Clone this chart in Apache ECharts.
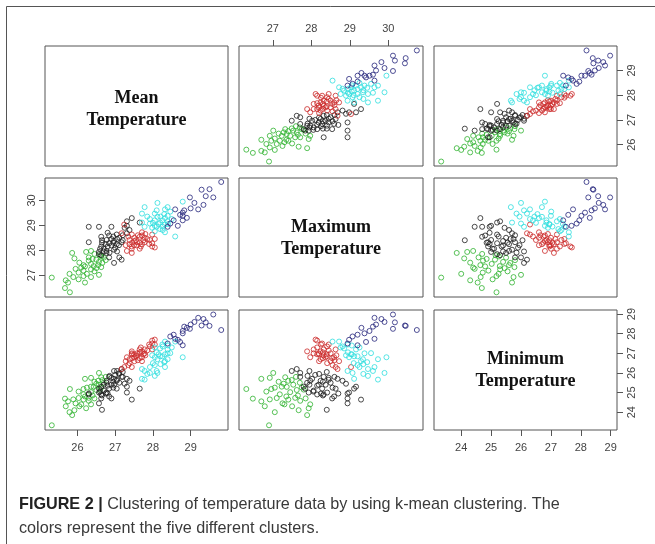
<!DOCTYPE html>
<html>
<head>
<meta charset="utf-8">
<script src="https://cdn.jsdelivr.net/npm/echarts@6/dist/echarts.min.js"></script>
<style>
  html, body { margin: 0; padding: 0; background: #fff; }
  #chart { width: 655px; height: 544px; }
</style>
</head>
<body>
<div id="chart"></div>
<script>
// variables of the pairs plot
const varNames = ['Mean\nTemperature', 'Maximum\nTemperature', 'Minimum\nTemperature']
const varRanges = [[25.14, 29.99], [26.12, 30.9], [23.09, 29.21]]
const meanTicks = [26, 27, 28, 29]
const maxTicks = [27, 28, 29, 30]
const minTicks = [24, 25, 26, 27, 28, 29]

// each day: [mean, max, min]
const green = [
  [25.80, 26.31, 25.18], [25.67, 26.48, 24.69], [26.20, 26.70, 25.70], [25.69, 26.79, 24.30],
  [25.32, 26.90, 23.33], [26.36, 26.92, 25.75], [26.57, 27.01, 26.00], [25.89, 26.92, 24.65],
  [25.79, 27.05, 24.00], [26.03, 27.10, 24.72], [26.36, 27.23, 25.30], [26.63, 27.32, 25.78],
  [26.43, 27.36, 25.29], [26.16, 27.40, 24.64], [26.66, 27.49, 25.64], [26.57, 27.53, 25.40],
  [26.30, 27.58, 24.73], [25.92, 27.67, 24.10], [26.30, 27.71, 24.58], [25.86, 27.89, 23.85],
  [26.23, 27.93, 24.20], [26.36, 27.97, 24.40], [26.63, 27.75, 25.26], [26.16, 26.96, 25.18],
  [26.16, 27.18, 24.91], [26.36, 27.45, 25.02], [26.50, 27.62, 25.13], [26.03, 26.83, 25.05],
  [26.75, 27.60, 25.80], [26.45, 27.15, 25.55], [25.75, 26.70, 24.55], [26.10, 27.30, 24.40],
  [26.50, 27.28, 25.45], [26.40, 27.65, 24.85], [26.60, 27.80, 25.15], [26.25, 27.05, 25.25],
  [26.55, 27.40, 25.60], [26.05, 27.50, 24.30], [25.95, 27.25, 24.45], [26.70, 27.70, 25.50],
  [26.45, 27.85, 24.70], [26.20, 27.35, 24.80]
]
const black = [
  [26.97, 27.49, 26.10], [27.17, 27.62, 26.20], [26.84, 27.71, 25.80], [26.63, 27.80, 25.30],
  [26.77, 27.89, 25.50], [26.57, 27.93, 25.00], [26.97, 28.02, 25.70], [26.70, 28.06, 25.10],
  [26.63, 28.15, 24.90], [27.04, 28.24, 25.60], [26.84, 28.28, 25.20], [27.17, 28.32, 25.80],
  [26.97, 28.37, 25.40], [26.77, 28.41, 25.00], [27.11, 28.50, 25.50], [26.84, 28.59, 24.80],
  [27.04, 28.63, 25.20], [27.31, 28.68, 25.70], [27.38, 28.81, 25.60], [26.65, 28.40, 24.12],
  [26.30, 28.32, 24.90], [26.90, 28.94, 24.70], [26.57, 28.94, 24.45], [26.30, 28.94, 24.95],
  [27.31, 28.98, 25.00], [27.65, 29.11, 25.20], [27.44, 29.29, 24.64], [27.31, 29.16, 25.30],
  [26.57, 27.84, 25.20], [26.77, 27.97, 25.60], [26.90, 28.19, 25.40], [26.63, 28.54, 24.70],
  [27.11, 27.71, 26.00], [27.00, 28.10, 25.90], [26.90, 28.45, 25.75], [27.20, 28.40, 26.05],
  [26.70, 27.95, 25.40], [26.80, 28.15, 25.35], [26.95, 28.30, 25.55], [27.05, 28.45, 25.65],
  [26.75, 28.25, 24.95], [26.85, 27.90, 25.85], [27.10, 28.20, 25.95], [26.65, 28.30, 24.85],
  [26.95, 28.55, 25.25], [27.20, 28.60, 25.80], [26.60, 28.05, 25.05], [27.05, 27.95, 26.10],
  [26.80, 28.70, 24.95], [27.25, 28.90, 25.45]
]
const red = [
  [27.17, 28.68, 26.20], [27.24, 29.03, 26.30], [27.31, 27.97, 26.80], [27.38, 28.41, 26.50],
  [27.38, 28.24, 26.70], [27.44, 28.15, 26.95], [27.44, 28.63, 26.30], [27.44, 28.06, 27.00],
  [27.44, 27.89, 27.10], [27.51, 28.50, 26.60], [27.51, 28.37, 26.80], [27.58, 28.32, 26.90],
  [27.58, 28.19, 27.00], [27.65, 28.06, 27.20], [27.65, 28.54, 26.75], [27.71, 28.24, 27.10],
  [27.71, 28.59, 26.80], [27.71, 28.72, 26.60], [27.78, 28.50, 27.00], [27.78, 28.32, 27.20],
  [27.92, 28.41, 27.35], [27.98, 28.15, 27.65], [27.98, 28.63, 27.20], [27.98, 28.28, 27.50],
  [28.05, 28.45, 27.45], [28.05, 28.11, 27.70], [27.55, 28.40, 26.85], [27.65, 28.30, 27.05],
  [27.85, 28.45, 27.15], [27.60, 28.60, 26.65], [27.50, 28.20, 26.95], [27.75, 28.40, 26.95],
  [27.90, 28.25, 27.45], [27.45, 28.30, 26.75], [27.35, 28.55, 26.40], [27.80, 28.65, 26.90],
  [27.68, 28.15, 27.30], [27.28, 28.20, 26.60]
]
const cyan = [
  [27.71, 29.47, 26.20], [27.71, 29.11, 25.70], [27.78, 28.94, 26.10], [27.78, 29.73, 25.66],
  [27.92, 29.25, 26.30], [27.92, 29.07, 26.00], [27.98, 28.90, 26.90], [28.05, 28.76, 27.30],
  [28.05, 28.98, 26.80], [28.05, 29.20, 26.40], [28.05, 29.47, 25.85], [28.12, 29.90, 26.00],
  [28.12, 29.34, 26.70], [28.19, 28.85, 27.25], [28.19, 29.11, 26.85], [28.26, 28.81, 27.35],
  [28.32, 28.72, 27.60], [28.32, 29.03, 26.95], [28.32, 29.29, 26.60], [28.32, 29.64, 26.30],
  [28.39, 29.38, 27.00], [28.39, 29.73, 26.70], [28.39, 29.16, 27.20], [28.46, 29.55, 27.01],
  [28.59, 28.55, 27.60], [28.79, 29.95, 26.80], [28.15, 29.05, 26.95], [28.25, 29.20, 26.85],
  [28.10, 28.95, 27.05], [28.30, 29.45, 26.55], [28.00, 29.10, 26.50], [28.20, 29.35, 26.45],
  [28.40, 29.05, 27.40], [28.10, 29.60, 26.10], [28.50, 29.25, 27.30], [27.85, 29.35, 25.95],
  [28.25, 28.95, 27.45]
]
const navy = [
  [29.81, 30.74, 28.19], [29.60, 30.12, 28.98], [29.40, 30.17, 28.58], [29.34, 29.82, 28.75],
  [29.29, 30.43, 28.42], [29.20, 29.64, 28.81], [29.00, 29.68, 28.47], [28.98, 30.12, 28.25],
  [28.83, 29.60, 28.36], [28.79, 29.38, 28.02], [28.79, 29.51, 28.14], [28.79, 29.20, 27.41],
  [28.72, 29.42, 27.58], [28.66, 28.98, 27.69], [28.59, 29.64, 27.74], [28.46, 29.07, 27.86],
  [28.39, 28.94, 27.50], [29.10, 29.90, 28.60], [28.90, 29.30, 28.30], [29.50, 30.45, 28.40],
  [28.55, 29.20, 27.95]
]

const clusters = [green, black, red, cyan, navy]
const clusterColors = ['#2fb32f', '#1e1e1e', '#cc2a2a', '#30dede', '#25257c']
const tickLists = [meanTicks, maxTicks, minTicks]

// panel layout
const colLeft = [45, 239, 434]
const colWidth = [183, 184, 183]
const rowTop = [46, 178, 310]
const rowHeight = [120, 119, 120]
const labelShift = [3, 1, 0]

const chart = echarts.init(document.getElementById('chart'))

const grids = []
const xAxes = []
const yAxes = []
const series = []

const makeAxis = (v, gi, position, visible, margin, rotate) => ({
  type: 'value',
  gridIndex: gi,
  min: varRanges[v][0],
  max: varRanges[v][1],
  position,
  show: visible,
  axisLine: { show: false, onZero: false },
  splitLine: { show: false },
  axisTick: {
    show: true,
    inside: false,
    length: 6,
    customValues: tickLists[v],
    lineStyle: { color: '#555', width: 1 }
  },
  axisLabel: {
    customValues: tickLists[v],
    margin,
    rotate,
    color: '#444',
    fontSize: 11,
    fontFamily: 'Liberation Sans'
  }
})

for (let r = 0; r < 3; r++) {
  for (let c = 0; c < 3; c++) {
    const gi = r * 3 + c
    grids.push({
      left: colLeft[c],
      top: rowTop[r],
      width: colWidth[c],
      height: rowHeight[r],
      show: true,
      borderColor: '#555',
      borderWidth: 1,
      backgroundColor: 'transparent'
    })
    // R pairs(): odd columns bottom, even columns top; odd rows right, even rows left
    const xTop = r === 0 && c === 1
    const xBottom = r === 2 && (c === 0 || c === 2)
    const yRight = c === 2 && (r === 0 || r === 2)
    const yLeft = c === 0 && r === 1
    xAxes.push(makeAxis(c, gi, xTop ? 'top' : 'bottom', xTop || xBottom, xTop ? 12 : 12, 0))
    yAxes.push(makeAxis(r, gi, yRight ? 'right' : 'left', yRight || yLeft, yRight ? 9 : 8, 90))

    if (r === c) continue
    clusters.forEach((pts, k) => {
      series.push({
        type: 'scatter',
        xAxisIndex: gi,
        yAxisIndex: gi,
        symbol: 'circle',
        symbolSize: 5,
        silent: true,
        itemStyle: { color: 'rgba(0,0,0,0)', borderColor: clusterColors[k], borderWidth: 1 },
        data: pts.map(p => [p[c], p[r]])
      })
    })
  }
}

const graphics = [
  {
    type: 'polyline',
    shape: { points: [[6.5, 544], [6.5, 6.5], [655, 6.5]] },
    style: { stroke: '#555', lineWidth: 1, fill: null }
  },
  {
    type: 'text',
    x: 19,
    y: 493,
    style: {
      text: '{b|FIGURE 2 |} Clustering of temperature data by using k-mean clustering. The\ncolors represent the five different clusters.',
      fontFamily: 'Liberation Sans',
      fontSize: 16.2,
      lineHeight: 24,
      fill: '#3a3a3a',
      rich: {
        b: { fontFamily: 'Liberation Sans', fontSize: 16.2, fontWeight: 'bold', lineHeight: 24, fill: '#222' }
      }
    }
  }
]

varNames.forEach((name, i) => {
  graphics.push({
    type: 'text',
    x: colLeft[i] + colWidth[i] / 2,
    y: rowTop[i] + rowHeight[i] / 2 + labelShift[i],
    style: {
      text: name,
      fontFamily: 'Liberation Serif',
      fontSize: 18,
      fontWeight: 'bold',
      lineHeight: 22,
      fill: '#111',
      align: 'center',
      verticalAlign: 'middle'
    }
  })
})

chart.setOption({
  animation: false,
  backgroundColor: '#fff',
  grid: grids,
  xAxis: xAxes,
  yAxis: yAxes,
  series,
  graphic: graphics
})
</script>
</body>
</html>
